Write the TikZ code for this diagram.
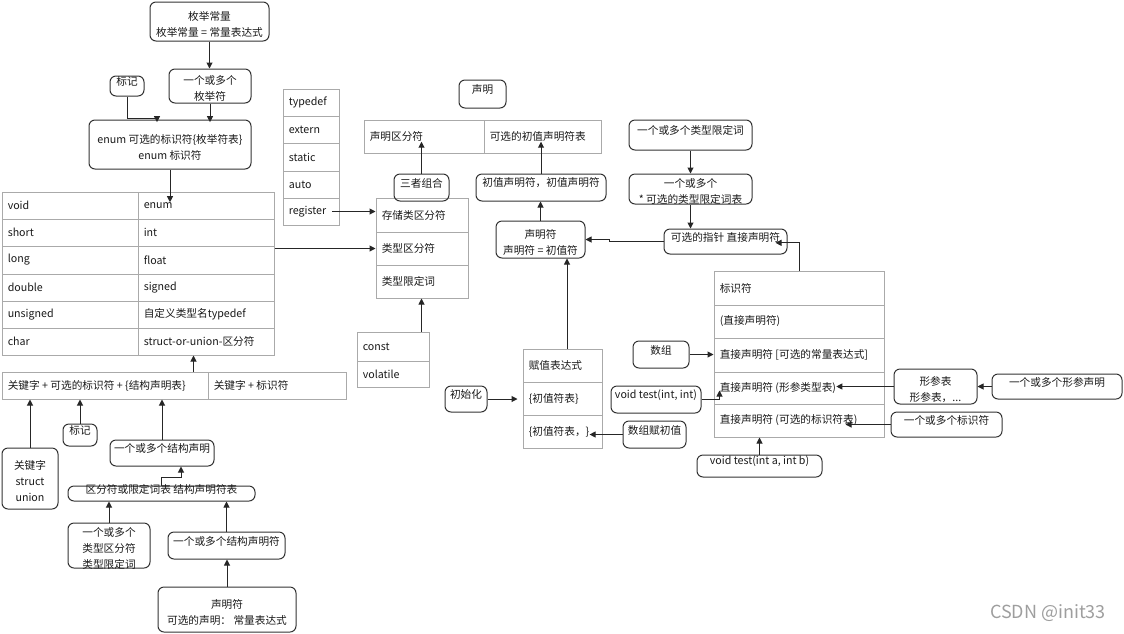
\documentclass[tikz,border=0pt]{standalone}
\usepackage{fontspec}
\setmainfont{Noto Sans CJK SC}
\usetikzlibrary{fit,calc,arrows.meta}
\definecolor{tabline}{RGB}{170,170,170}
\definecolor{boxline}{RGB}{50,50,50}
\newcommand\tcell[6]{\node[tcell,fit={(#2,#3)(#4,#5)}] (#1) {};\node[ttext] (#1t) at ($(#1.west)+(6,0)$) {#6};}
\newcommand\rbx[6]{\node[rbox,fit={(#2,#3)(#4,#5)}] (#1) {#6};}
\newcommand\rbm[6]{\node[rbox,fit={(#2,#3)(#4,#5)}] (#1) {};\node[mltext] (#1t) at ([yshift=-2.2pt]#1.center) {#6};}
\begin{document}
\begin{tikzpicture}[x=0.75pt,y=-0.75pt,
 every node/.append style={font=\fontsize{8}{12}\selectfont, text=black!90},
 rbox/.style={draw=boxline,line width=0.75pt,rounded corners=4.5pt,inner sep=0pt,align=center},
 mltext/.style={inner sep=0pt,align=center},
 tcell/.style={draw=tabline,line width=0.75pt,inner sep=0pt},
 ttext/.style={anchor=west,inner sep=0pt},
 arr/.style={draw=black!85,line width=0.75pt,-{Triangle[length=4.5pt,width=4.5pt]}}]
\useasboundingbox (0,0) rectangle (1124,633);
% ---------- tables ----------
\tcell{tvoid}{2}{192}{138}{219}{void}
\tcell{tenum}{138}{192}{274}{219}{enum}
\tcell{tshort}{2}{219}{138}{246}{short}
\tcell{tint}{138}{219}{274}{246}{int}
\tcell{tlong}{2}{246}{138}{274}{long}
\tcell{tfloat}{138}{246}{274}{274}{float}
\tcell{tdouble}{2}{274}{138}{301}{double}
\tcell{tsigned}{138}{274}{274}{301}{signed}
\tcell{tunsigned}{2}{301}{138}{328}{unsigned}
\tcell{ttdname}{138}{301}{274}{328}{自定义类型名typedef}
\tcell{tchar}{2}{328}{138}{355}{char}
\tcell{tsou}{138}{328}{274}{355}{struct-or-union-区分符}
\tcell{stypedef}{283}{89}{339}{116}{typedef}
\tcell{sextern}{283}{116}{339}{143}{extern}
\tcell{sstatic}{283}{143}{339}{171}{static}
\tcell{sauto}{283}{171}{339}{198}{auto}
\tcell{sregister}{283}{198}{339}{225}{register}
\tcell{dspec}{364}{120}{484}{153}{声明区分符}
\tcell{dinit}{484}{120}{601}{153}{可选的初值声明符表}
\tcell{sc}{376}{198}{468}{232}{存储类区分符}
\tcell{ts}{376}{232}{468}{265}{类型区分符}
\tcell{tq}{376}{265}{468}{298}{类型限定词}
\tcell{cconst}{357}{332}{429}{361}{const}
\tcell{cvol}{357}{361}{429}{387}{volatile}
\tcell{aexpr}{523}{349}{602}{382}{赋值表达式}
\tcell{alist}{523}{382}{602}{415}{\{初值符表\}}
\tcell{alist2}{523}{415}{602}{448}{\{初值符表，\}}
\tcell{dident}{714}{271}{884}{305}{标识符}
\tcell{dparen}{714}{305}{884}{338}{(直接声明符)}
\tcell{darr}{714}{338}{884}{372}{直接声明符 [可选的常量表达式]}
\tcell{dfunc}{714}{372}{884}{404}{直接声明符 (形参类型表)}
\tcell{did}{714}{404}{884}{437}{直接声明符 (可选的标识符表)}
\tcell{kw1}{2}{372}{208}{399}{关键字 + 可选的标识符 + \{结构声明表\}}
\tcell{kw2}{208}{372}{346}{399}{关键字 + 标识符}
% ---------- rounded boxes ----------
\rbm{enumconst}{150}{2}{269}{41}{枚举常量\\枚举常量 = 常量表达式}
\rbm{enumers}{169}{69}{251}{103}{一个或多个\\枚举符}
\rbx{tag1}{110}{76}{144}{96}{标记}
\rbm{enumspec}{89}{120}{251}{169}{enum 可选的标识符\{枚举符表\}\\enum 标识符}
\rbx{declT}{459}{80}{506}{108}{声明}
\rbx{three}{394}{174}{449}{201}{三者组合}
\rbx{initdecls}{476}{174}{606}{201}{初值声明符，初值声明符}
\rbm{declarator}{496}{221}{585}{258}{声明符\\声明符 = 初值符}
\rbx{tq1}{629}{120}{752}{150}{一个或多个类型限定词}
\rbm{tq2}{629}{174}{752}{204}{一个或多个\\{}* 可选的类型限定词表}
\rbx{ptr}{664}{229}{787}{254}{可选的指针 直接声明符}
\rbx{array}{633}{341}{689}{368}{数组}
\rbx{vt1}{611}{386}{701}{413}{void test(int, int)}
\rbm{plist}{894}{369}{977}{404}{形参表\\形参表，...}
\rbx{pdecls}{992}{374}{1122}{399}{一个或多个形参声明}
\rbx{idlist}{891}{412}{1002}{437}{一个或多个标识符}
\rbx{vt2}{697}{455}{822}{477}{void test(int a, int b)}
\rbx{init}{445}{386}{487}{412}{初始化}
\rbx{arrinit}{623}{421}{686}{448}{数组赋初值}
\rbm{kw}{2}{448}{58}{509}{关键字\\struct\\union}
\rbx{tag2}{63}{424}{97}{446}{标记}
\rbx{sdecls}{110}{440}{214}{466}{一个或多个结构声明}
\rbx{sqlist}{68}{486}{255}{501}{区分符或限定词表 结构声明符表}
\rbm{sq}{68}{523}{150}{568}{一个或多个\\类型区分符\\类型限定词}
\rbx{sdeclors}{168}{532}{285}{559}{一个或多个结构声明符}
\rbm{sdeclor}{158}{587}{296}{632}{声明符\\可选的声明： 常量表达式}
% ---------- connectors ----------
\draw[arr] (enumconst.south) -- (enumconst.south |- enumers.north);
\coordinate (j1) at (157,118);
\draw[arr] (tag1.south) |- (j1) -- ([yshift=-2pt]j1 |- enumspec.north);
\draw[arr] (enumers.south) -- ([yshift=-2pt]enumers.south |- enumspec.north);
\draw[arr] (enumspec.south) -- (enumspec.south |- tenumt.north);
\coordinate (a0) at ($(kw1.north east)+(-15,0)$);
\draw[arr] (a0) -- (a0 |- tsou.south);
\draw[arr] (kw.north) -- (kw.north |- kw1.south);
\draw[arr] (tag2.north) -- (tag2.north |- kw1.south);
\draw[arr] (sdecls.north) -- (sdecls.north |- kw1.south);
\coordinate (j2) at (181,477);
\draw[arr] (sqlist.north) |- (j2) -- (j2 |- sdecls.south);
\draw[arr] (sq.north) -- (sq.north |- sqlist.south);
\draw[arr] (sdeclors.north) -- (sdeclors.north |- sqlist.south);
\draw[arr] (sdeclor.north) -- (sdeclor.north |- sdeclors.south);
\draw[arr] (ts.west -| tint.east) -- (ts.west);
\draw[arr] ([xshift=4pt]sregistert.east) -- (sregistert.east -| sc.west);
\coordinate (a1) at ($(cconst.north east)+(-8,0)$);
\draw[arr] (a1) -- (a1 |- tq.south);
\draw[arr] (three.north) -- (three.north |- dspect.south);
\draw[arr] (initdecls.north) -- (initdecls.north |- dinitt.south);
\draw[arr] (declarator.north) -- (declarator.north |- initdecls.south);
\coordinate (a2) at ($(aexpr.north)+(4.5,0)$);
\draw[arr] (a2) -- (a2 |- declarator.south);
\draw[arr] (init.east) -- ($(init.east -| alist.west)+(-5,0)$);
\draw[arr] (arrinit.west) -- (arrinit.west -| alist2t.east);
\draw[arr] (tq1.south) -- (tq1.south |- tq2.north);
\draw[arr] (tq2.south) -- (tq2.south |- ptr.north);
\draw[arr] (ptr.west) -- ($(ptr.west)+(-54,0)$) |- (declarator.east);
\coordinate (a3) at ($(dident.north west)+(86,0)$);
\draw[arr] (a3) |- ([xshift=-9pt,yshift=-1pt]ptr.east);
\draw[arr] (array.east) -- (array.east -| darr.west);
\coordinate (a4) at ($(dfunc.north west)+(6,19)$);
\draw[arr] (vt1.east) -| (a4);
\draw[arr] (plist.west) -- (dfunct.east |- plist.west);
\draw[arr] (pdecls.west) -- (pdecls.west -| plist.east);
\draw[arr] (idlist.west) -- ($(idlist.west)+(-45,0)$);
\draw[arr] (vt2.north) -- (vt2.north |- did.south);
% ---------- watermark ----------
\node[font=\fontsize{13.5}{15}\selectfont, text=black!38] (wm) at (1048,613) {CSDN @init33};
\end{tikzpicture}
\end{document}
